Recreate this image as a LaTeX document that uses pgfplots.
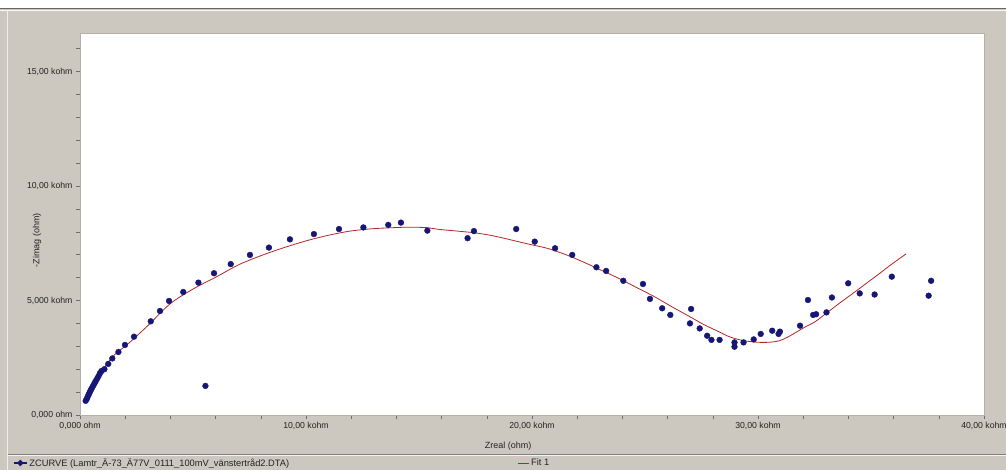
\documentclass[border=0pt]{standalone}
\usepackage{fontspec}
\setmainfont{Liberation Sans}
\usepackage{pgfplots}
\pgfplotsset{compat=1.18}
\definecolor{winbg}{RGB}{204,200,191}
\definecolor{navy}{RGB}{22,22,118}
\definecolor{fitred}{RGB}{180,38,38}
\definecolor{txt}{RGB}{35,35,35}
\definecolor{tickc}{RGB}{110,110,110}
\definecolor{frame}{RGB}{180,177,169}
\pgfplotsset{
  fitleg/.style={legend image code/.code={\draw[fitred, line width=0.9pt] (0pt,0pt) -- (11pt,0pt);}},
  dataleg/.style={legend image code/.code={
    \draw[navy, line width=1.2pt] (0pt,0pt) -- (13pt,0pt);
    \draw[navy, fill=navy] (6.5pt,-3pt) -- (9.5pt,0pt) -- (6.5pt,3pt) -- (3.5pt,0pt) -- cycle;}},
}
\begin{document}
\begin{tikzpicture}[x=1pt,y=1pt,font=\fontsize{8.7}{10.4}\selectfont]
\fill[white] (0,0) rectangle (1006,470);
\fill[winbg] (0,0) rectangle (1006,461);
\draw[line width=1pt,black!60] (0,461) -- (1006,461);
\draw[line width=0.8pt,white!85!winbg] (0,460) -- (1006,460);
\draw[line width=0.8pt,white!70!winbg] (7.5,0) -- (7.5,460);
\draw[line width=1pt,black!50] (8,15.5) -- (1006,15.5);
\draw[line width=0.8pt,white!80!winbg] (8,14.5) -- (1006,14.5);
\begin{axis}[
  at={(80pt,55pt)}, anchor=south west,
  width=904pt, height=382pt, scale only axis,
  xmin=0, xmax=40, ymin=0, ymax=16.68,
  axis background/.style={fill=white},
  axis line style={frame, line width=0.6pt},
  tick pos=left, tick align=outside,
  major tick length=4pt, minor tick length=4pt,
  every tick/.style={tickc, line width=0.5pt},
  xtick={0,10,20,30,40},
  xticklabels={{0,000 ohm},{10,00 kohm},{20,00 kohm},{30,00 kohm},{40,00 kohm}},
  minor xtick={2,4,6,8,12,14,16,18,22,24,26,28,32,34,36,38},
  ytick={0,5,10,15},
  yticklabels={{0,000 ohm},{5,000 kohm},{10,00 kohm},{15,00 kohm}},
  minor ytick={1,2,3,4,6,7,8,9,11,12,13,14,16},
  tick label style={text=txt, font=\fontsize{8.7}{10.4}\selectfont},
  xlabel={Zreal (ohm)},
  xlabel style={at={(axis description cs:0.4735,-0.081)}, anchor=center, text=txt, font=\fontsize{9}{10.8}\selectfont},
  ylabel={-Zimag (ohm)},
  ylabel style={at={(axis description cs:-0.0476,0.458)}, anchor=center, text=txt, font=\fontsize{9}{10.8}\selectfont},
  legend columns=2,
  legend style={at={(axis description cs:-0.0774,-0.1257)}, anchor=west,
    draw=none, fill=none, text=txt, font=\fontsize{9.3}{11}\selectfont,
    /tikz/every even column/.append style={column sep=226pt}},
  clip=false,
]
\addplot[fitred, line width=0.8pt, smooth, forget plot] coordinates {
(0.28,0.62) (0.5,1.1) (0.8,1.65) (1.2,2.25) (1.6,2.7) (2.07,3.06)
(3.0,3.9) (3.98,4.85) (5.0,5.5) (6.05,6.04) (7.0,6.55) (7.96,6.94)
(9.0,7.3) (10.03,7.61) (11.0,7.85) (11.95,8.03) (12.9,8.13) (13.86,8.18)
(14.6,8.2) (15.34,8.18) (15.93,8.1) (16.8,8.02) (17.51,7.95) (18.3,7.82)
(19.09,7.64) (19.9,7.45) (20.67,7.28) (21.5,7.0) (22.25,6.69) (23.0,6.35)
(23.83,5.97) (24.6,5.58) (25.41,5.17) (26.2,4.72) (26.99,4.29) (27.6,3.95)
(28.26,3.64) (28.7,3.43) (29.2,3.28) (29.7,3.2) (30.15,3.17) (30.55,3.18)
(30.94,3.24) (31.35,3.42) (31.73,3.64) (32.1,3.85) (32.52,4.07) (32.9,4.35)
(33.31,4.66) (33.7,4.95) (34.1,5.24) (34.5,5.53) (34.89,5.82) (35.3,6.12)
(35.68,6.41) (36.1,6.72) (36.55,7.03)
};
\addplot[only marks, mark=*, mark size=2.9pt, color=navy, dataleg] coordinates {
(0.25,0.62) (0.30,0.70) (0.34,0.80) (0.38,0.88) (0.42,0.97) (0.46,1.05)
(0.50,1.13) (0.55,1.22) (0.60,1.31) (0.65,1.40) (0.70,1.49) (0.76,1.59)
(0.82,1.70) (0.88,1.82) (0.95,1.92)
(1.08,2.00) (1.25,2.23) (1.43,2.47) (1.70,2.75) (1.99,3.06) (2.39,3.42)
(3.13,4.09) (3.54,4.54) (3.94,4.98) (4.57,5.37) (5.24,5.78) (5.93,6.19)
(6.67,6.59) (7.52,6.99) (8.36,7.31) (9.29,7.67) (10.35,7.90) (11.46,8.12)
(12.54,8.19) (13.64,8.30) (14.20,8.40) (15.37,8.05) (5.55,1.27)
(17.15,7.72) (17.43,8.03) (19.30,8.12) (20.12,7.57) (21.02,7.28) (21.78,6.99)
(22.85,6.45) (23.28,6.29) (24.04,5.86) (24.91,5.72) (25.22,5.07) (25.76,4.66)
(26.12,4.37) (27.04,4.63) (26.99,4.00) (27.42,3.78) (27.75,3.46) (27.94,3.28)
(28.30,3.28) (28.96,3.17) (28.96,2.98) (29.36,3.17) (29.81,3.30) (30.12,3.54)
(30.63,3.68) (30.91,3.54) (30.97,3.64) (31.86,3.90) (32.21,5.02) (32.44,4.37)
(32.57,4.40) (33.03,4.48) (33.27,5.13) (33.99,5.75) (34.50,5.31) (35.16,5.26)
(35.92,6.04) (37.66,5.86) (37.55,5.21)
};
\addlegendentry{ZCURVE (Lamtr\_Ä-73\_Ä77V\_0111\_100mV\_vänstertråd2.DTA)}
\addlegendimage{fitleg}
\addlegendentry{Fit 1}
\end{axis}
\pgfresetboundingbox
\path[use as bounding box] (0,0) rectangle (1006,470);
\end{tikzpicture}
\end{document}
